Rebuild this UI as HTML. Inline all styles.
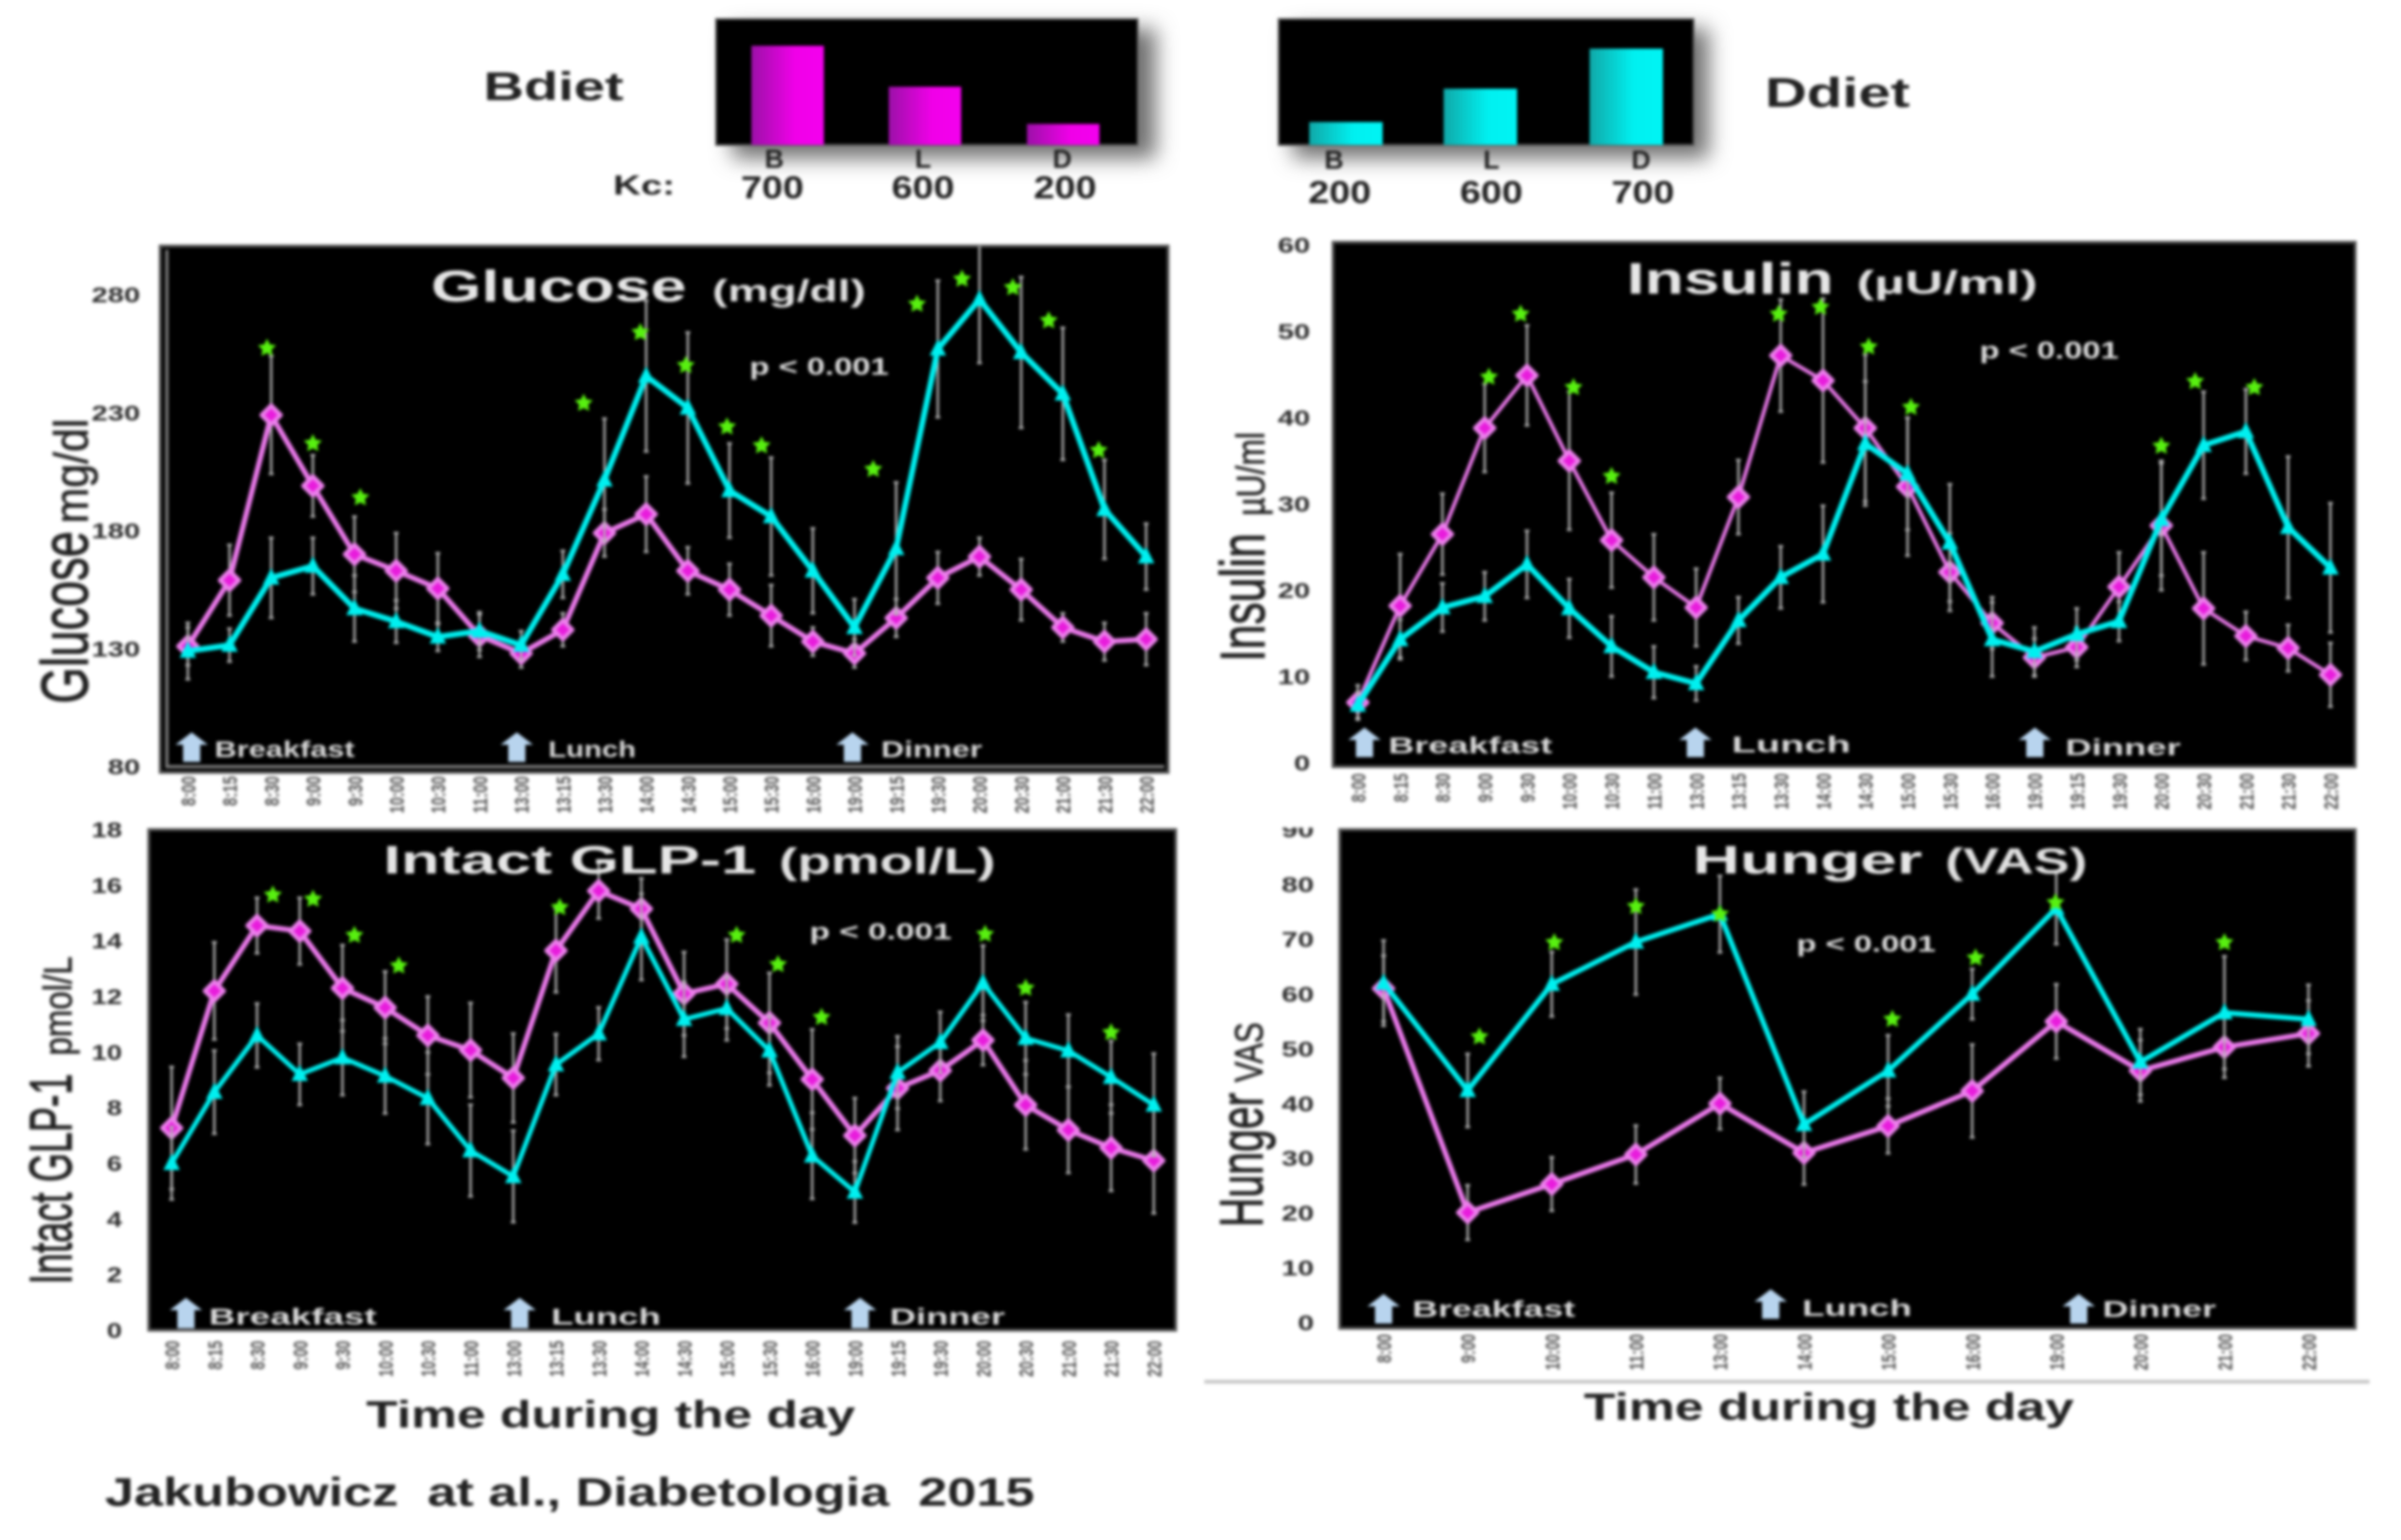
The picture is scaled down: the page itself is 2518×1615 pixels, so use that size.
<!DOCTYPE html>
<html lang="en">
<head>
<meta charset="utf-8">
<title>Bdiet vs Ddiet glucose, insulin, GLP-1 and hunger</title>
<style>
html,body{margin:0;padding:0;background:#fff;width:2518px;height:1615px;overflow:hidden}
svg{display:block;filter:blur(1.6px)}
text{font-family:"Liberation Sans",sans-serif;white-space:pre}
</style>
</head>
<body>
<svg id="figure" xmlns="http://www.w3.org/2000/svg" width="2518" height="1615" viewBox="0 0 2518 1615">
  <defs>
    <linearGradient id="magentaBar" x1="0" x2="1" y1="0" y2="0"><stop offset="0" stop-color="#9c10a8"/><stop offset="0.6" stop-color="#f000e8"/><stop offset="1" stop-color="#f400ee"/></linearGradient>
    <linearGradient id="cyanBar" x1="0" x2="1" y1="0" y2="0"><stop offset="0" stop-color="#10a8a8"/><stop offset="0.6" stop-color="#00f0f0"/><stop offset="1" stop-color="#00f4f4"/></linearGradient>
    <filter id="soft" x="-20%" y="-30%" width="140%" height="160%"><feGaussianBlur stdDeviation="11"/></filter>
    <clipPath id="hungerTickClip"><rect x="1300" y="868" width="100" height="560"/></clipPath>
  </defs>

  <rect width="2518" height="1615" fill="#fff"/>

  <!-- Diet schedule panels -->
  <g>
    <rect x="768" y="30" width="444" height="136" fill="#707070" filter="url(#soft)"/>
    <rect x="751" y="20" width="442" height="132" fill="#000" stroke="#555" stroke-width="2"/>
    <g id="bdietBars"></g>
  </g>
  <text x="507" y="105" font-size="42" font-weight="bold" fill="#222" textLength="147" lengthAdjust="spacingAndGlyphs">Bdiet</text>
  <text x="643" y="204" font-size="29" font-weight="bold" fill="#222" textLength="65" lengthAdjust="spacingAndGlyphs">Kc:</text>

  <g>
    <rect x="1356" y="30" width="436" height="136" fill="#707070" filter="url(#soft)"/>
    <rect x="1341" y="20" width="435" height="132" fill="#000" stroke="#555" stroke-width="2"/>
    <g id="ddietBars"></g>
  </g>
  <text x="1851" y="112" font-size="44" font-weight="bold" fill="#222" textLength="152" lengthAdjust="spacingAndGlyphs">Ddiet</text>

  <!-- Chart containers -->
  <g id="glucoseChart"></g>
  <g id="insulinChart"></g>
  <g id="glpChart"></g>
  <g id="hungerChart"></g>

  <!-- Glucose labels -->
  <text x="452" y="316" font-size="46" font-weight="bold" fill="#e6e6e6" textLength="268" lengthAdjust="spacingAndGlyphs">Glucose</text>
  <text x="747" y="316" font-size="32" font-weight="bold" fill="#e0e0e0" textLength="161" lengthAdjust="spacingAndGlyphs">(mg/dl)</text>
  <text x="786" y="393" font-size="25" font-weight="bold" fill="#dcdcdc" textLength="146" lengthAdjust="spacingAndGlyphs">p &lt; 0.001</text>
  <text transform="translate(92,738) rotate(-90)" font-size="70" fill="#222" stroke="#222" stroke-width="1" textLength="181" lengthAdjust="spacingAndGlyphs">Glucose</text>
  <text transform="translate(92,549) rotate(-90)" font-size="50" fill="#222" stroke="#222" stroke-width="0.6" textLength="110" lengthAdjust="spacingAndGlyphs">mg/dl</text>

  <!-- Insulin labels -->
  <text x="1706" y="308" font-size="46" font-weight="bold" fill="#e6e6e6" textLength="217" lengthAdjust="spacingAndGlyphs">Insulin</text>
  <text x="1947" y="308" font-size="34" font-weight="bold" fill="#e0e0e0" textLength="190" lengthAdjust="spacingAndGlyphs">(µU/ml)</text>
  <text x="2076" y="376" font-size="25" font-weight="bold" fill="#dcdcdc" textLength="146" lengthAdjust="spacingAndGlyphs">p &lt; 0.001</text>
  <text transform="translate(1326,694) rotate(-90)" font-size="66" fill="#222" stroke="#222" stroke-width="1" textLength="135" lengthAdjust="spacingAndGlyphs">Insulin</text>
  <text transform="translate(1326,541) rotate(-90)" font-size="42" fill="#222" stroke="#222" stroke-width="0.6" textLength="88" lengthAdjust="spacingAndGlyphs">µU/ml</text>

  <!-- GLP-1 labels -->
  <text x="402" y="916" font-size="42" font-weight="bold" fill="#e6e6e6" textLength="391" lengthAdjust="spacingAndGlyphs">Intact GLP-1</text>
  <text x="817" y="916" font-size="38" font-weight="bold" fill="#e0e0e0" textLength="227" lengthAdjust="spacingAndGlyphs">(pmol/L)</text>
  <text x="849" y="985" font-size="24" font-weight="bold" fill="#dcdcdc" textLength="149" lengthAdjust="spacingAndGlyphs">p &lt; 0.001</text>
  <text transform="translate(75,1347) rotate(-90)" font-size="63" fill="#222" stroke="#222" stroke-width="1" textLength="221" lengthAdjust="spacingAndGlyphs">Intact GLP-1</text>
  <text transform="translate(75,1107) rotate(-90)" font-size="42" fill="#222" stroke="#222" stroke-width="0.6" textLength="104" lengthAdjust="spacingAndGlyphs">pmol/L</text>
  <text x="384" y="1497" font-size="40" font-weight="bold" fill="#222" textLength="513" lengthAdjust="spacingAndGlyphs">Time during the day</text>
  <text x="110" y="1579" font-size="42" font-weight="bold" fill="#222" textLength="975" lengthAdjust="spacingAndGlyphs" xml:space="preserve">Jakubowicz  at al., Diabetologia  2015</text>

  <!-- Hunger labels -->
  <text x="1775" y="916" font-size="42" font-weight="bold" fill="#e6e6e6" textLength="241" lengthAdjust="spacingAndGlyphs">Hunger</text>
  <text x="2040" y="916" font-size="38" font-weight="bold" fill="#e0e0e0" textLength="149" lengthAdjust="spacingAndGlyphs">(VAS)</text>
  <text x="1884" y="998" font-size="24" font-weight="bold" fill="#dcdcdc" textLength="146" lengthAdjust="spacingAndGlyphs">p &lt; 0.001</text>
  <text transform="translate(1324,1287) rotate(-90)" font-size="64" fill="#222" stroke="#222" stroke-width="1" textLength="141" lengthAdjust="spacingAndGlyphs">Hunger</text>
  <text transform="translate(1324,1135) rotate(-90)" font-size="42" fill="#222" stroke="#222" stroke-width="0.6" textLength="63" lengthAdjust="spacingAndGlyphs">VAS</text>
  <rect x="1263" y="1447" width="1222" height="4" fill="#c8c8c8"/>
  <text x="1661" y="1489" font-size="40" font-weight="bold" fill="#222" textLength="514" lengthAdjust="spacingAndGlyphs">Time during the day</text>
</svg>

<script>
// ---- Diet bars ----
const mealLetters = ['B', 'L', 'D'];
const bdietKcal = ['700', '600', '200'];
const ddietKcal = ['200', '600', '700'];
const bdietBarLevels = [104, 61, 22];
const ddietBarLevels = [24, 59, 101];

// ---- Time categories ----
const fullTimes = ['8:00','8:15','8:30','9:00','9:30','10:00','10:30','11:00','13:00','13:15','13:30','14:00','14:30','15:00','15:30','16:00','19:00','19:15','19:30','20:00','20:30','21:00','21:30','22:00'];
const hourlyTimes = ['8:00','9:00','10:00','11:00','13:00','14:00','15:00','16:00','19:00','20:00','21:00','22:00'];
const mealNames = ['Breakfast', 'Lunch', 'Dinner'];

// ---- Glucose ----
const glucoseTicks = [80, 130, 180, 230, 280];
const glucoseB = [131,159,229,199,170,163,155.5,135.5,128,138,179,187,163,155,144,133,128,143,160,169,155,139,133,134];
const glucoseD = [129,131.5,160,165,147,141.5,135,137.5,131.5,161.5,201.5,245.5,232,197,186,163,139,172.5,257,278,255.5,238,189,169];
const glucoseBErr = [8,15,25,13,16,16,15,9,6,7,10,16,10,11,13,6,6,8,11,8,13,6,8,11];
const glucoseDErr = [12,7,17,12,14,9,6,8,6,10,26,32,32,20,25,18,12,28,29,27,32,28,21,14];
const glucoseStarPos = [1.9,3,4.14,9.5,10.86,11.95,12.94,13.77,16.45,17.5,18.58,19.8,20.66,21.86];
const glucoseStarVal = [257.3,216.9,194,234,264,250,224,216,206,276,286.6,283,269,214];

// ---- Insulin ----
const insulinTicks = [0,10,20,30,40,50,60];
const insulinB = [7,18.2,26.5,38.8,44.9,35,25.8,21.5,18,30.8,47.2,44.3,38.8,32,22.1,16.2,12.2,13.4,20.4,27.5,17.9,14.7,13.3,10.2];
const insulinD = [6.7,14.3,18,19.3,23,17.9,13.5,10.5,9.2,16.5,21.5,24.2,37,33.5,25.5,14.3,12.9,14.9,16.4,28.2,36.8,38.4,27.3,22.6];
const insulinBErr = [2,6,4.7,5.1,5.8,8,5.5,5,4.5,4.3,6.5,9.5,8.5,8,4.5,3,2.2,2.3,4,7.5,6.5,2.8,2.7,3.7];
const insulinDErr = [1.5,2.3,2.8,2.8,3.9,3.4,3.5,3,2,2.7,3.6,5.6,7.2,6.5,6.8,4.3,2.8,3,2.3,6.5,6.2,4.9,8.2,7.5];
const insulinStarPos = [3.1,3.85,5.1,6,9.95,10.94,12.08,13.08,19,19.8,21.2];
const insulinStarVal = [44.7,52,43.5,33.2,52,52.8,48.2,41.2,36.7,44.2,43.5];

// ---- GLP-1 ----
const glpTicks = [0,2,4,6,8,10,12,14,16,18];
const glpB = [7.27,12.2,14.55,14.35,12.3,11.6,10.6,10.07,9.07,13.65,15.8,15.15,12.1,12.45,11.05,9.02,7,8.7,9.34,10.43,8.1,7.2,6.56,6.1];
const glpD = [6,8.56,10.6,9.2,9.8,9.14,8.34,6.46,5.53,9.55,10.66,14.14,11.18,11.57,10.05,6.27,4.97,9.27,10.35,12.48,10.5,10.05,9.1,8.1];
const glpBErr = [2.2,1.75,1,1.2,1.55,1.3,1.4,1.7,1.6,1.5,1,1.1,1.5,1.6,1.8,1.8,1.35,1.5,1.1,0.9,1.6,1.55,1.55,1.9];
const glpDErr = [1.3,1.5,1.15,1.1,1.35,1.35,1.65,1.65,1.65,1.1,0.95,1.55,1.35,1.15,1.25,1.55,1.1,1.3,1.1,1.35,1.3,1.3,1.3,1.85];
const glpStarPos = [2.37,3.31,4.28,5.32,9.09,13.23,14.2,15.22,19.05,20,22];
const glpStarVal = [15.65,15.5,14.2,13.1,15.2,14.2,13.15,11.25,14.24,12.3,10.7];

// ---- Hunger ----
const hungerTicks = [0,10,20,30,40,50,60,70,80,90];
const hungerB = [61,20.1,25.3,30.7,40,31,35.9,42.3,55,46,50.3,52.8];
const hungerD = [62,42.4,61.8,69.5,74.6,36.2,46,60,75.7,47.6,56.6,55.4];
const hungerBErr = [6,5,4.9,5.3,4.7,5.8,5,8.5,6.8,5.6,5.6,6];
const hungerDErr = [7.8,6.7,5.9,9.6,7,6,6.5,4.6,6.6,6,10.3,6.3];
const hungerStarPos = [1.14,2.03,3,4,6.05,7.04,7.99,10];
const hungerStarVal = [52.2,69.4,76,74.6,55.4,66.6,76.7,69.4];

const SVGNS = 'http://www.w3.org/2000/svg';
function make(tag, attrs, parent, content) {
  const n = document.createElementNS(SVGNS, tag);
  for (const k in attrs) n.setAttribute(k, attrs[k]);
  if (content !== undefined) n.textContent = content;
  parent.appendChild(n);
  return n;
}

function drawBars(parentId, levels, letters, kcal, cfg) {
  const parent = document.getElementById(parentId);
  const barY = level => cfg.base - level * cfg.scale;
  levels.forEach((level, i) => {
    const bar = make('rect', {x: cfg.barX[i], y: barY(level), width: cfg.barW, height: cfg.base - barY(level), fill: cfg.fill}, parent);
    
    
    const letter = make('text', {x: cfg.letterX[i], y: cfg.letterY, 'font-size': 28, 'font-weight': 'bold', fill: '#222', 'text-anchor': 'middle'}, parent, letters[i]);
    
    
    const kc = make('text', {x: cfg.kcalX[i], y: cfg.kcalY, 'font-size': 33, 'font-weight': 'bold', fill: '#222', 'text-anchor': 'middle', textLength: 66, lengthAdjust: 'spacingAndGlyphs'}, parent, kcal[i]);
    
    
  });
}

function drawSeries(parent, cfg, values, errs, color, lineW, shape, label) {
  const errGroup = make('g', {stroke: '#b4b4b4', 'stroke-width': 2.4, fill: 'none', 'clip-path': 'url(#' + cfg.id + 'Clip)'}, parent);
  
  
  values.forEach((v, i) => {
    const x = cfg.xScale(i);
    const bar = make('path', {d: `M${x} ${cfg.yScale(v + errs[i])}V${cfg.yScale(v - errs[i])}M${x-2.5} ${cfg.yScale(v + errs[i])}h5M${x-2.5} ${cfg.yScale(v - errs[i])}h5`}, errGroup);
    
    
  });
  const pts = values.map((v, i) => cfg.xScale(i) + ',' + cfg.yScale(v)).join(' ');
  const line = make('polyline', {points: pts, fill: 'none', stroke: color, 'stroke-width': lineW, 'stroke-linejoin': 'round'}, parent);
  
  
  values.forEach((v, i) => {
    const x = cfg.xScale(i), y = cfg.yScale(v);
    let mark;
    if (shape === 'diamond') {
      mark = make('polygon', {points: `${x},${y-10} ${x+10},${y} ${x},${y+10} ${x-10},${y}`, fill: '#e81cdc', stroke: '#ec80ec', 'stroke-width': 4.5, 'stroke-linejoin': 'round'}, parent);
    } else {
      mark = make('polygon', {points: `${x},${y-8} ${x+7},${y+6} ${x-7},${y+6}`, fill: '#00f0f0', stroke: '#00f0f0', 'stroke-width': 2}, parent);
    }
    
    
  });
}

function starPoints(cx, cy, r) {
  const out = [];
  for (let k = 0; k < 10; k++) {
    const a = -Math.PI / 2 + k * Math.PI / 5;
    const rad = k % 2 ? r * 0.5 : r;
    out.push((cx + rad * Math.cos(a)) + ',' + (cy + rad * Math.sin(a)));
  }
  return out.join(' ');
}

function drawChart(cfg) {
  const root = document.getElementById(cfg.id);
  cfg.yScale = v => cfg.y0 + (v - cfg.vMin) * (cfg.y1 - cfg.y0) / (cfg.vMax - cfg.vMin);
  cfg.xScale = i => cfg.x0 + i * (cfg.xN - cfg.x0) / (cfg.times.length - 1);

  const clip = make('clipPath', {id: cfg.id + 'Clip'}, root);
  make('rect', {x: cfg.left, y: cfg.top, width: cfg.right - cfg.left, height: cfg.bottom - cfg.top}, clip);

  const panel = make('rect', {x: cfg.left, y: cfg.top, width: cfg.right - cfg.left, height: cfg.bottom - cfg.top, fill: '#000', stroke: '#555', 'stroke-width': 3}, root);
  
  

  if (cfg.innerFrame) {
    const frame = make('path', {d: `M${cfg.left + 7} ${cfg.top + 4}V${cfg.bottom - 6}H${cfg.right - 4}`, fill: 'none', stroke: '#777', 'stroke-width': 3.5}, root);
    
    
  }

  const tickGroup = make('g', cfg.tickClip ? {'clip-path': cfg.tickClip} : {}, root);
  
  
  cfg.ticks.forEach(t => {
    const s = String(t);
    const label = make('text', {x: cfg.tickX, y: cfg.yScale(t) + 8, 'font-size': 22, 'font-weight': 'bold', fill: '#2c2c2c', 'text-anchor': 'end', textLength: s.length * cfg.tickCharW, lengthAdjust: 'spacingAndGlyphs'}, tickGroup, s);
    
    
  });

  const xGroup = make('g', {}, root);
  
  
  cfg.times.forEach((t, i) => {
    const x = cfg.xScale(i);
    const label = make('text', {transform: `translate(${x + 8},${cfg.timeY}) rotate(-90)`, 'font-size': 21, 'font-weight': 'bold', fill: '#555', 'text-anchor': 'end', textLength: t.length * cfg.timeCharW, lengthAdjust: 'spacingAndGlyphs'}, xGroup, t);
    
    
  });

  drawSeries(root, cfg, cfg.seriesB, cfg.errB, '#e878e8', cfg.lineB, 'diamond', cfg.name + '-bdiet');
  drawSeries(root, cfg, cfg.seriesD, cfg.errD, '#00efef', cfg.lineD, 'triangle', cfg.name + '-ddiet');

  cfg.starPos.forEach((p, i) => {
    const star = make('polygon', {points: starPoints(cfg.xScale(p), cfg.yScale(cfg.starVal[i]), 10), fill: '#58f010'}, root);
    
    
  });

  mealNames.forEach((m, i) => {
    const cx = cfg.arrowX[i], top = cfg.arrowTop[i], h = cfg.arrowH;
    const arrow = make('polygon', {points: `${cx},${top} ${cx+17},${top+13} ${cx+9},${top+13} ${cx+9},${top+h} ${cx-9},${top+h} ${cx-9},${top+13} ${cx-17},${top+13}`, fill: '#b8d4ee'}, root);
    
    
    const label = make('text', {x: cfg.mealX[i], y: cfg.mealY[i], 'font-size': 24, 'font-weight': 'bold', fill: '#d8d8d8', textLength: cfg.mealW[i], lengthAdjust: 'spacingAndGlyphs'}, root, m);
    
    
  });
}

drawBars('bdietBars', bdietBarLevels, mealLetters, bdietKcal, {name: 'bdiet', base: 152, scale: 1, barX: [788, 932, 1077], barW: 76, fill: 'url(#magentaBar)', letterX: [812, 968, 1114], letterY: 176, kcalX: [810, 968, 1117], kcalY: 208});
drawBars('ddietBars', ddietBarLevels, mealLetters, ddietKcal, {name: 'ddiet', base: 152, scale: 1, barX: [1373, 1514, 1667], barW: 77, fill: 'url(#cyanBar)', letterX: [1399, 1564, 1721], letterY: 177, kcalX: [1405, 1564, 1723], kcalY: 213});

drawChart({id: 'glucoseChart', name: 'glucose', left: 168, right: 1225, top: 258, bottom: 810, innerFrame: true,
  x0: 197, xN: 1202, vMin: 80, vMax: 280, y0: 804, y1: 309, times: fullTimes, ticks: glucoseTicks,
  tickX: 147, tickCharW: 17, timeY: 814, timeCharW: 7.8,
  seriesB: glucoseB, seriesD: glucoseD, errB: glucoseBErr, errD: glucoseDErr, starPos: glucoseStarPos, starVal: glucoseStarVal,
  lineB: 5.5, lineD: 6, arrowX: [201, 542, 894], arrowTop: [768, 768, 768], arrowH: 31,
  mealX: [225, 575, 924], mealY: [794, 794, 794], mealW: [147, 92, 106]});

drawChart({id: 'insulinChart', name: 'insulin', left: 1398, right: 2470, top: 254, bottom: 804,
  x0: 1424, xN: 2444, vMin: 0, vMax: 60, y0: 800, y1: 257, times: fullTimes, ticks: insulinTicks,
  tickX: 1374, tickCharW: 17, timeY: 811, timeCharW: 7.6,
  seriesB: insulinB, seriesD: insulinD, errB: insulinBErr, errD: insulinDErr, starPos: insulinStarPos, starVal: insulinStarVal,
  lineB: 4, lineD: 6, arrowX: [1431, 1778, 2134], arrowTop: [763, 763, 763], arrowH: 31,
  mealX: [1456, 1816, 2166], mealY: [790, 789, 792], mealW: [172, 125, 121]});

drawChart({id: 'glpChart', name: 'glp1', left: 156, right: 1233, top: 870, bottom: 1395,
  x0: 180, xN: 1210, vMin: 0, vMax: 18, y0: 1395, y1: 870, times: fullTimes, ticks: glpTicks,
  tickX: 128, tickCharW: 16, timeY: 1406, timeCharW: 7.6,
  seriesB: glpB, seriesD: glpD, errB: glpBErr, errD: glpDErr, starPos: glpStarPos, starVal: glpStarVal,
  lineB: 5.5, lineD: 5, arrowX: [195, 545, 902], arrowTop: [1361, 1361, 1361], arrowH: 32,
  mealX: [219, 578, 933], mealY: [1389, 1389, 1389], mealW: [176, 115, 121]});

drawChart({id: 'hungerChart', name: 'hunger', left: 1405, right: 2470, top: 870, bottom: 1393,
  x0: 1451, xN: 2421, vMin: 0, vMax: 80, y0: 1387, y1: 927.6, times: hourlyTimes, ticks: hungerTicks,
  tickX: 1378, tickCharW: 17, tickClip: 'url(#hungerTickClip)', timeY: 1399, timeCharW: 7.6,
  seriesB: hungerB, seriesD: hungerD, errB: hungerBErr, errD: hungerDErr, starPos: hungerStarPos, starVal: hungerStarVal,
  lineB: 5.5, lineD: 5.5, arrowX: [1451, 1857, 2180], arrowTop: [1357, 1352, 1357], arrowH: 31,
  mealX: [1481, 1890, 2205], mealY: [1381, 1380, 1381], mealW: [171, 115, 119]});

// Keep chart labels above the data marks
const figure = document.getElementById('figure');
figure.querySelectorAll(':scope > text').forEach(t => figure.appendChild(t));
</script>
</body>
</html>
